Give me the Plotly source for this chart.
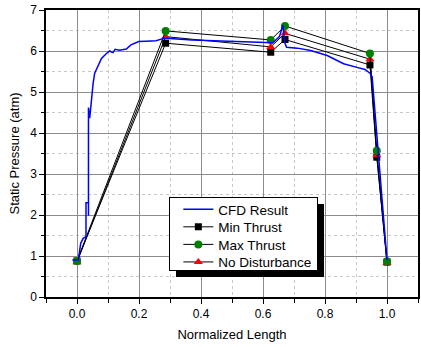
import plotly.graph_objects as go

# CFD curve
cfd_x = [-0.015, 0.004, 0.012, 0.020, 0.029, 0.029, 0.037, 0.037, 0.037, 0.041, 0.047, 0.052, 0.057,
         0.068, 0.079, 0.095, 0.105, 0.116, 0.123, 0.137, 0.159, 0.174, 0.199, 0.222, 0.255, 0.272,
         0.287, 0.371, 0.478, 0.616, 0.632, 0.653, 0.664, 0.671, 0.676, 0.711, 0.754, 0.807, 0.860,
         0.903, 0.929, 0.945, 0.952, 1.0]
cfd_y = [0.90, 0.90, 1.31, 1.43, 1.47, 2.30, 2.30, 1.98, 4.62, 4.36, 4.89, 5.21, 5.46,
         5.66, 5.82, 5.94, 6.00, 5.96, 6.04, 6.02, 6.05, 6.15, 6.23, 6.24, 6.25, 6.29,
         6.31, 6.27, 6.24, 6.19, 6.20, 6.35, 6.63, 6.19, 6.09, 6.07, 6.01, 5.89, 5.69,
         5.60, 5.55, 5.46, 5.37, 0.90]

# Experimental points
pt_x = [0.0, 0.286, 0.625, 0.671, 0.945, 0.967, 1.0]
min_thrust = [0.88, 6.19, 5.97, 6.28, 5.66, 3.41, 0.85]
max_thrust = [0.88, 6.49, 6.27, 6.61, 5.94, 3.57, 0.87]
no_dist = [0.85, 6.35, 6.10, 6.43, 5.80, 3.46, 0.83]

x_ticks = [0.0, 0.2, 0.4, 0.6, 0.8, 1.0]
x_tick_labels = ["0.0", "0.2", "0.4", "0.6", "0.8", "1.0"]
y_ticks = [0, 1, 2, 3, 4, 5, 6, 7]

fig = go.Figure()
fig.add_trace(go.Scatter(x=pt_x, y=min_thrust, name="Min Thrust", mode="lines+markers",
                         line=dict(color="black", width=1),
                         marker=dict(symbol="square", size=7, color="black"), legendrank=2))
fig.add_trace(go.Scatter(x=pt_x, y=no_dist, name="No Disturbance", mode="lines+markers",
                         line=dict(color="black", width=1),
                         marker=dict(symbol="triangle-up", size=8, color="red"), legendrank=4))
fig.add_trace(go.Scatter(x=pt_x, y=max_thrust, name="Max Thrust", mode="lines+markers",
                         line=dict(color="black", width=1),
                         marker=dict(symbol="circle", size=8, color="green"), legendrank=3))
fig.add_trace(go.Scatter(x=cfd_x, y=cfd_y, name="CFD Result", mode="lines",
                         line=dict(color="#0000ff", width=1.5), legendrank=1))

L, T, R, B = 46, 10, 1, 50
W, H = 421, 347
pw, ph = W - L - R, H - T - B

def px(xp):
    return (xp - L) / pw

def py(yp):
    return (H - B - yp) / ph

axis_common = dict(showline=True, linecolor="black", linewidth=1.5, mirror=True,
                   ticks="outside", ticklen=5, tickcolor="black", tickwidth=1,
                   showgrid=True, gridcolor="#8c8c8c", gridwidth=1, zeroline=False,
                   tickfont=dict(family="Liberation Sans, Arial", size=12, color="black"))

fig.update_layout(
    width=W, height=H, margin=dict(l=L, r=R, t=T, b=B),
    paper_bgcolor="white", plot_bgcolor="white",
    font=dict(family="Liberation Sans, Arial", size=13, color="black"),
    xaxis=dict(range=[-0.1, 1.1], tickvals=x_ticks, ticktext=x_tick_labels,
               title=dict(text="Normalized Length", font=dict(size=13), standoff=10),
               minor=dict(dtick=0.1, tick0=0, ticks="outside", ticklen=4, tickcolor="black",
                          showgrid=True, gridcolor="#c8c8c8", griddash="dot", gridwidth=1),
               **axis_common),
    yaxis=dict(range=[0, 7], tickvals=y_ticks,
               title=dict(text="Static Pressure (atm)", font=dict(size=13), standoff=8),
               minor=dict(dtick=0.5, tick0=0, ticks="outside", ticklen=3, tickcolor="black",
                          showgrid=True, gridcolor="#c8c8c8", griddash="dot", gridwidth=1),
               **axis_common),
    legend=dict(x=px(170), y=py(197), xanchor="left", yanchor="top",
                bgcolor="white", bordercolor="black", borderwidth=1,
                font=dict(size=13.5), tracegroupgap=0, itemwidth=30, indentation=8),
    showlegend=True,
)

post = """
document.body.style.margin='0';
document.body.style.padding='0';
(function(){
  var gd = document.getElementById('{plot_id}');
  function tidy(){
    var leg = gd.querySelector('g.legend');
    if(!leg) return;
    var bg = leg.querySelector('rect.bg');
    if(!bg) return;
    var traces = leg.querySelectorAll('g.traces');
    traces.forEach(function(t, i){
      var tr = t.getAttribute('data-orig');
      if(!tr){ tr = t.getAttribute('transform') || ''; t.setAttribute('data-orig', tr); }
      var m = /translate\\(([-\\d.e]+)[ ,]+([-\\d.e]+)\\)/.exec(tr);
      if(m){
        var x = parseFloat(m[1]), y = parseFloat(m[2]);
        t.setAttribute('transform', 'translate(' + x + ',' + (y - 4 - 3*i) + ')');
      }
    });
    var h = bg.getAttribute('data-origh');
    if(!h){ h = bg.getAttribute('height'); bg.setAttribute('data-origh', h); }
    bg.setAttribute('height', parseFloat(h) - 21);
    var old = leg.querySelector('rect.legshadow');
    if(old) old.remove();
    var s = bg.cloneNode(false);
    s.setAttribute('class','legshadow');
    s.style.fill='black'; s.style.stroke='none'; s.style.strokeWidth='0';
    s.setAttribute('transform','translate(6,6)');
    bg.parentNode.insertBefore(s, bg);
  }
  tidy();
  if(gd.on) gd.on('plotly_afterplot', tidy);
})();
"""

fig.write_html("out.html", post_script=post, config={"displayModeBar": False})
